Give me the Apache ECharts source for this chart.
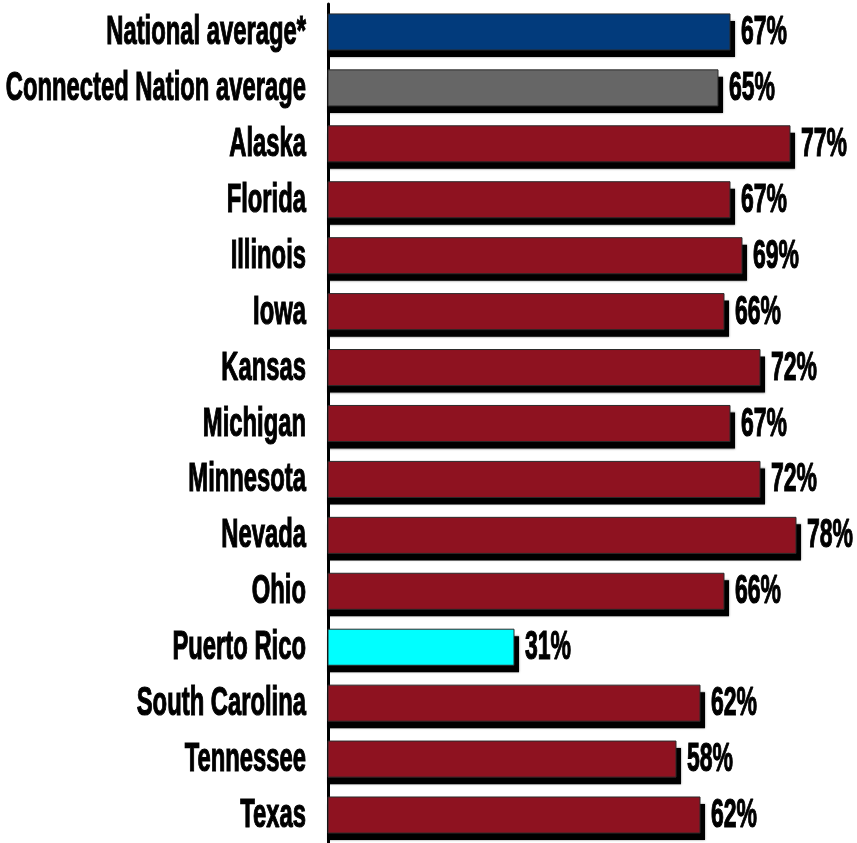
<!DOCTYPE html>
<html><head><meta charset="utf-8">
<script src="https://cdn.jsdelivr.net/npm/echarts@6/dist/echarts.min.js"></script>
<style>html,body{margin:0;padding:0;background:#fff}#c{width:857px;height:843px}</style>
</head><body><div id="c"></div>
<script>
const categories = ["National average*","Connected Nation average","Alaska","Florida","Illinois","Iowa","Kansas","Michigan","Minnesota","Nevada","Ohio","Puerto Rico","South Carolina","Tennessee","Texas"];
const values = [67,65,77,67,69,66,72,67,72,78,66,31,62,58,62];

const colorFor = function(name){
  if (name === "National average*") return "#023B7C";
  if (name === "Connected Nation average") return "#666666";
  if (name === "Puerto Rico") return "#00FFFF";
  return "#8E1220";
};
const FONT = '"Liberation Sans",Arial,sans-serif';
const chart = echarts.init(document.getElementById('c'));
chart.setOption({
  animation:false,
  grid:{left:328, top:4, width:600, height:839, containLabel:false, outerBoundsMode:'none'},
  xAxis:{type:'value', min:0, max:100, show:false},
  yAxis:{type:'category', data:categories, inverse:true, offset:4,
    axisLine:{show:true, lineStyle:{color:'#000', width:3}},
    axisTick:{show:false},
    axisLabel:{show:false}
  },
  series:[{
    type:'custom', clip:false,
    data: values.map((v,i)=>[v,i]),
    encode:{x:0, y:1},
    renderItem:function(params, api){
      const v = api.value(0), ci = api.value(1);
      const end = api.coord([v, ci]);
      const start = api.coord([0, ci]);
      const band = api.size([0,1])[1];
      const h = band*0.645;
      const top = end[1]-h/2;
      const w = end[0]-start[0];
      return {type:'group', children:[
        {type:'rect', shape:{x:start[0], y:top+7, width:w+5, height:h}, style:{fill:'#000', shadowColor:'rgba(0,0,0,0.5)', shadowBlur:2}},
        {type:'rect', shape:{x:start[0], y:top, width:w, height:h}, style:{fill:colorFor(categories[ci]), stroke:'#2a2a2a', lineWidth:1}},
        {type:'text', x:end[0]+11, y:end[1]+1, scaleX:0.575,
          style:{text:v+'%', x:0, y:0, textAlign:'left', textVerticalAlign:'middle', fill:'#000', stroke:'#000', lineWidth:1.2, font:'bold 40px '+FONT}},
        {type:'text', x:start[0]-22, y:end[1]+1, scaleX:0.595,
          style:{text:categories[ci], x:0, y:0, textAlign:'right', textVerticalAlign:'middle', fill:'#000', stroke:'#000', lineWidth:1.2, font:'bold 40px '+FONT}}
      ]};
    }
  }]
});
</script></body></html>
